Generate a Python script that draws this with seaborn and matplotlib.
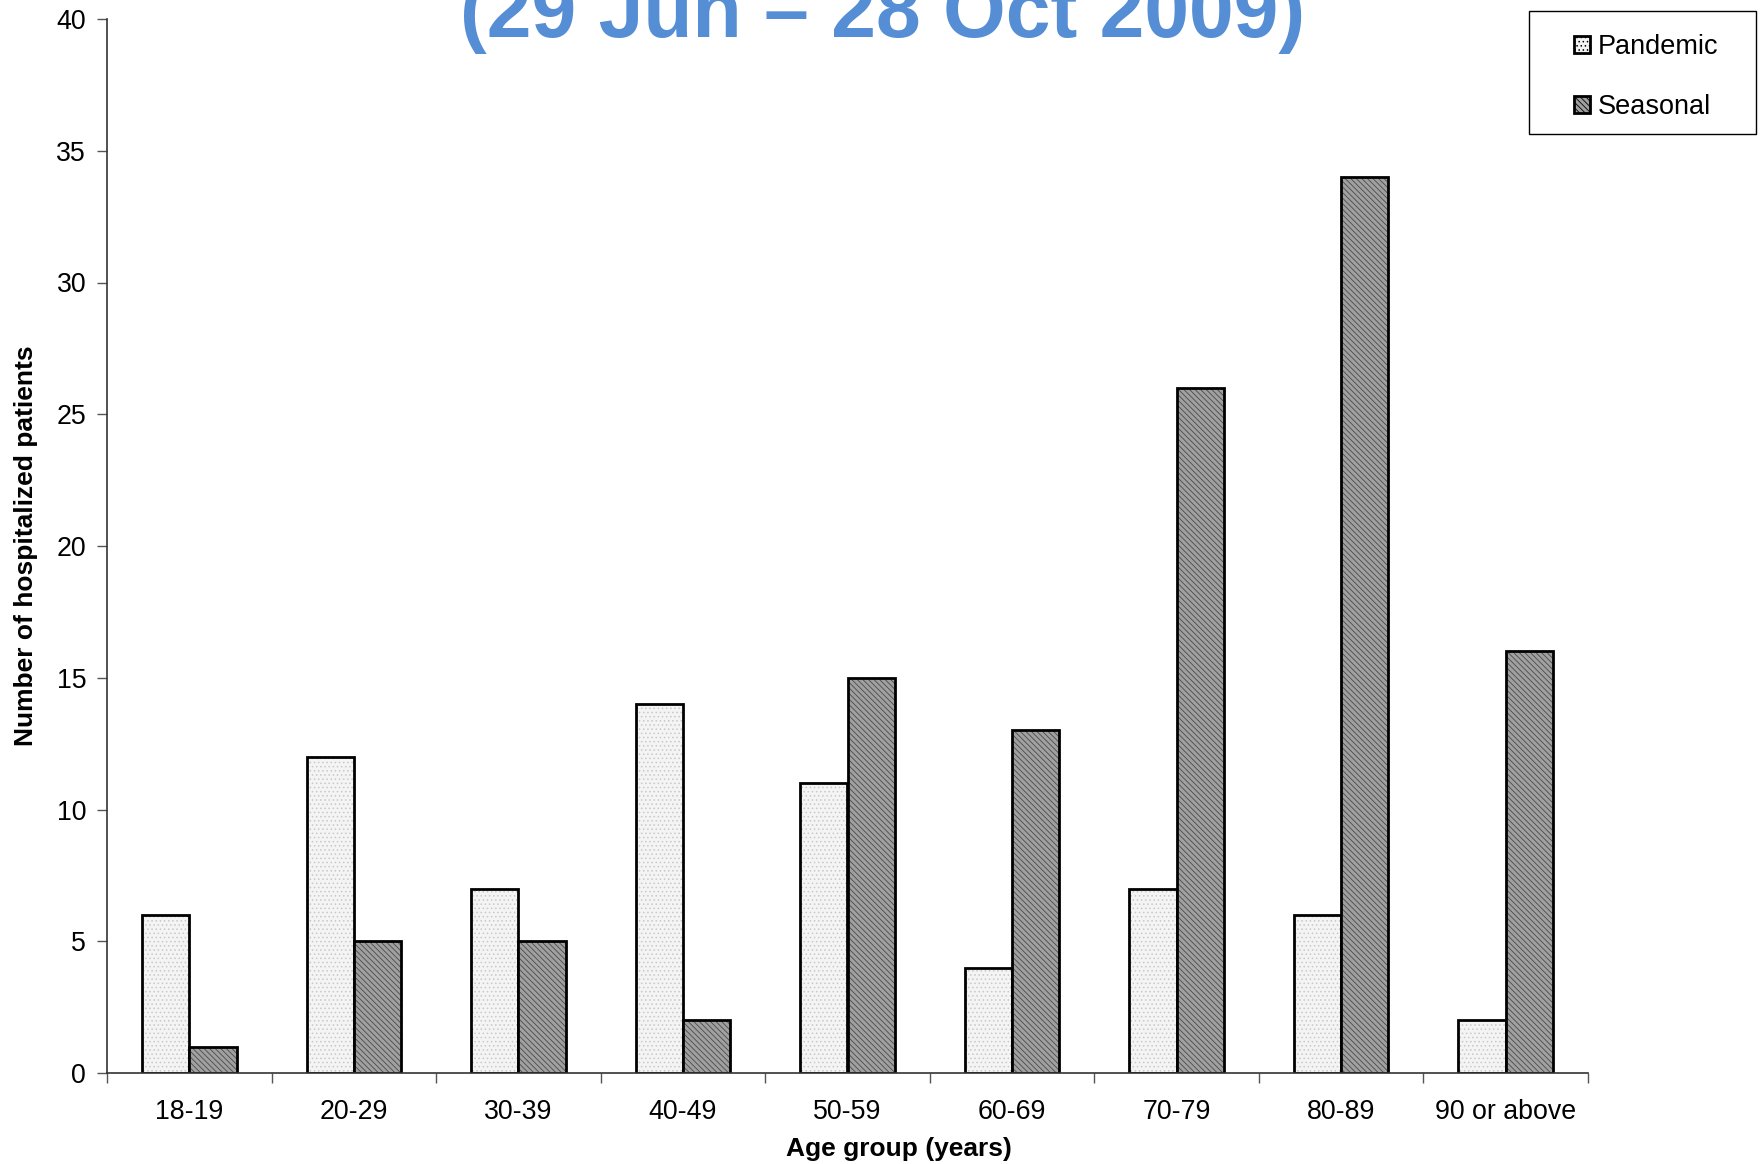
import matplotlib
matplotlib.use("Agg")
import matplotlib.pyplot as plt
import seaborn as sns
import pandas as pd
from matplotlib.patches import Patch, Rectangle

age_groups = ["18-19", "20-29", "30-39", "40-49", "50-59", "60-69", "70-79", "80-89", "90 or above"]
pandemic = [6, 12, 7, 14, 11, 4, 7, 6, 2]
seasonal = [1, 5, 5, 2, 15, 13, 26, 34, 16]
series_names = ["Pandemic", "Seasonal"]
title_text = "(29 Jun \u2013 28 Oct 2009)"

df = pd.DataFrame({
    "age": age_groups * 2,
    "count": pandemic + seasonal,
    "type": [series_names[0]] * len(age_groups) + [series_names[1]] * len(age_groups),
})

sns.set_theme(style="white")
plt.rcParams["font.family"] = ["Liberation Sans", "DejaVu Sans"]
plt.rcParams["hatch.linewidth"] = 0.6
for key in ["text.color", "axes.labelcolor", "xtick.labelcolor", "ytick.labelcolor"]:
    plt.rcParams[key] = "black"

W, H = 1763, 1164
fig = plt.figure(figsize=(W / 100, H / 100), dpi=100)
ax_l, ax_r, ax_t, ax_b = 107, 1588, 19, 1073
ax = fig.add_axes([ax_l / W, 1 - ax_b / H, (ax_r - ax_l) / W, (ax_b - ax_t) / H])

fills = {"Pandemic": "#f4f4f4", "Seasonal": "#a0a0a0"}
sns.barplot(data=df, x="age", y="count", hue="type", order=age_groups,
            hue_order=series_names, palette=fills, width=0.575,
            edgecolor="black", linewidth=2, saturation=1, ax=ax, legend=False)

hatches = {"Pandemic": "....", "Seasonal": "\\\\\\\\\\\\"}
hatch_cols = {"Pandemic": "#c8c8c8", "Seasonal": "#4a4a4a"}
for cont, name in zip(ax.containers, series_names):
    for bar in cont:
        bar.set_hatch(hatches[name])
        bar._hatch_color = matplotlib.colors.to_rgba(hatch_cols[name])

ax.set_ylim(0, 40)
ax.set_xlim(-0.5, len(age_groups) - 0.5)
ax.set_yticks(range(0, 41, 5))
ax.set_xticks([i - 0.5 for i in range(len(age_groups) + 1)], minor=False)
ax.set_xticklabels([])
ax.set_xticks(range(len(age_groups)), minor=True)
ax.set_xticklabels(age_groups, minor=True, fontsize=19.3)
ax.tick_params(axis="x", which="minor", length=0, pad=19)
ax.tick_params(axis="x", which="major", length=7, width=1, color="#555555", direction="out", bottom=True)
ax.tick_params(axis="y", length=7, width=1, color="#555555", direction="out", left=True, labelsize=19.3, pad=8)

for side in ["top", "right"]:
    ax.spines[side].set_visible(False)
for side in ["left", "bottom"]:
    ax.spines[side].set_color("#333333")
    ax.spines[side].set_linewidth(1.2)

ax.set_ylabel("Number of hospitalized patients", fontsize=19, fontweight="bold")
ax.yaxis.set_label_coords(-(ax_l - 38) / (ax_r - ax_l), 0.5)
ax.set_xlabel("Age group (years)", fontsize=19, fontweight="bold")
ax.xaxis.set_label_coords((899 - ax_l) / (ax_r - ax_l), -(1137 - ax_b) / (ax_b - ax_t))

# legend entries without frame, plus a plain box around them
handles = [Patch(facecolor=fills[n], edgecolor="black", linewidth=2, hatch=hatches[n]) for n in series_names]
leg = fig.legend(handles, series_names, loc="center left",
                 bbox_to_anchor=(1574 / W, 1 - 77 / H), fontsize=19.5,
                 frameon=False, handlelength=0.6, handleheight=0.6,
                 handletextpad=0.28, labelspacing=1.25, borderpad=0, borderaxespad=0)
fig.patches.append(Rectangle((1529 / W, 1 - 134 / H), (1756 - 1529) / W, (134 - 11) / H,
                             transform=fig.transFigure, facecolor="none",
                             edgecolor="black", linewidth=1))

fig.text(883 / W, 1 - 37 / H, title_text, ha="center", va="baseline",
         fontsize=58, fontweight="bold", color="#558ed5",
         family=["Liberation Sans", "DejaVu Sans"])

fig.savefig("out.png", dpi=100)
